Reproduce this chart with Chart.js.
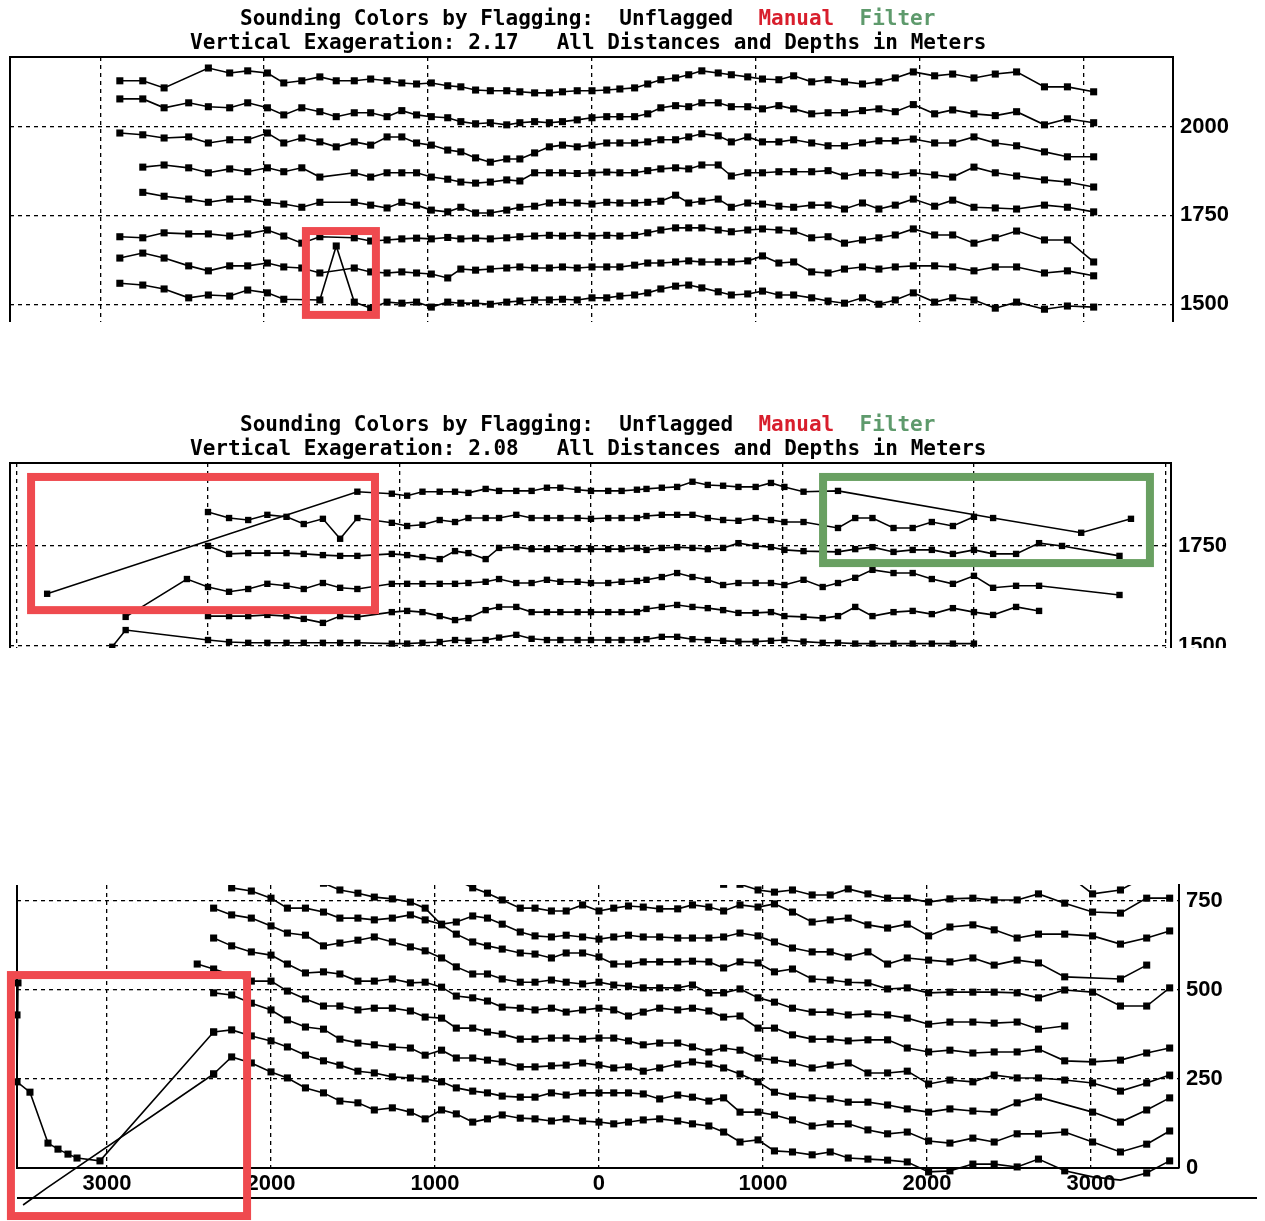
<!DOCTYPE html>
<html>
<head>
<meta charset="utf-8">
<script src="https://cdn.jsdelivr.net/npm/chart.js"></script>
<style>
  html, body { margin: 0; padding: 0; background: #fff; }
  body { width: 1265px; height: 1221px; position: relative; overflow: hidden; }
  canvas { position: absolute; left: 0; }
  .t { position: absolute; font: bold 21px "DejaVu Sans Mono", monospace; line-height: 24px; white-space: pre; color: #000; z-index: 2; }
  .m { color: #d81e2c; }
  .f { color: #5e9a6c; }
</style>
</head>
<body>
<div class="t" style="top:6px;left:240px">Sounding Colors by Flagging:  Unflagged  <span class="m">Manual</span>  <span class="f">Filter</span></div>
<div class="t" style="top:30px;left:190px">Vertical Exageration: 2.17   All Distances and Depths in Meters</div>
<div class="t" style="top:412px;left:240px">Sounding Colors by Flagging:  Unflagged  <span class="m">Manual</span>  <span class="f">Filter</span></div>
<div class="t" style="top:436px;left:190px">Vertical Exageration: 2.08   All Distances and Depths in Meters</div>

<canvas id="c1" width="1265" height="322" style="top:0"></canvas>
<canvas id="c2" width="1265" height="248" style="top:400px"></canvas>
<canvas id="c3" width="1265" height="346" style="top:875px"></canvas>

<script>
const _ = null;

// ---- panel 1 (VE 2.17): across-track distance of each beam, depth per ping
const p1Dist = [-2880,-2740,-2610,-2460,-2340,-2210,-2100,-1980,-1880,-1770,
  -1660,-1560,-1450,-1350,-1250,-1160,-1070,-980,-880,-800,
  -710,-620,-520,-440,-350,-260,-180,-90,0,90,
  170,260,340,420,510,590,670,770,850,950,
  1040,1140,1230,1340,1440,1540,1650,1750,1850,1960,
  2090,2200,2330,2460,2590,2760,2900,3060];
const p1r1 = [2129,2129,2109,_,2165,2151,2157,2151,2123,2129,
  2140,2129,2129,2134,2129,2123,2120,2123,2115,2112,
  2103,2101,2101,2098,2095,2095,2098,2101,2101,2103,
  2106,2109,2120,2132,2137,2146,2157,2151,2146,2140,
  2134,2132,2143,2126,2132,2126,2120,2126,2137,2154,
  2143,2148,2137,2148,2154,2112,2112,2098];
const p1r2 = [2078,2078,2053,2067,2056,2053,2067,2053,2033,2053,
  2042,2028,2039,2039,2028,2045,2033,2028,2025,2014,
  2008,2011,2005,2011,2014,2011,2014,2019,2025,2028,
  2028,2028,2036,2053,2059,2056,2067,2067,2056,2056,
  2050,2059,2050,2036,2039,2039,2045,2050,2042,2062,
  2036,2047,2036,2031,2042,2005,2022,2011];
const p1r3 = [1982,1977,1968,1971,1954,1963,1963,1982,1954,1968,
  1957,1943,1957,1948,1971,1971,1954,1948,1934,1929,
  1912,1900,1909,1909,1926,1943,1948,1943,1948,1954,
  1954,1954,1957,1963,1963,1971,1980,1974,1957,1971,
  1957,1957,1963,1954,1946,1946,1954,1960,1960,1965,
  1954,1954,1971,1954,1946,1929,1915,1915];
const p1r4 = [_,1886,1892,1884,1870,1881,1873,1884,1873,1884,
  1858,_,1870,1858,1870,1870,1870,1858,1852,1844,
  1841,1844,1850,1847,1870,1870,1870,1868,1870,1872,
  1870,1870,1876,1881,1884,1881,1892,1892,1861,1870,
  1870,1873,1873,1873,1876,1861,1870,1870,1864,1870,
  1864,1858,1886,1870,1861,1850,1844,1830];
const p1r5 = [_,1815,1804,1796,1787,1796,1796,1787,1782,1773,
  1787,_,1787,1779,1771,1787,1779,1765,1760,1773,
  1757,1757,1765,1773,1776,1785,1787,1785,1782,1787,
  1785,1785,1787,1790,1807,1785,1790,1796,1773,1785,
  1782,1776,1773,1779,1779,1768,1785,1768,1779,1796,
  1776,1793,1773,1771,1768,1779,1773,1760];
const p1r6 = [1690,1687,1701,1698,1698,1692,1698,1709,1692,1672,
  1690,_,1687,1678,1681,1684,1686,1684,1688,1684,
  1686,1684,1687,1690,1692,1694,1692,1694,1692,1694,
  1692,1694,1701,1709,1715,1715,1715,1709,1704,1709,
  1712,1709,1706,1687,1690,1672,1681,1687,1695,1712,
  1695,1695,1672,1687,1706,1681,1681,1619];
const p1r7 = [1630,1644,1630,1608,1594,1608,1608,1616,1605,1602,
  1588,_,1602,1591,1588,1591,1588,1585,1574,1599,
  1596,1599,1602,1605,1602,1602,1605,1602,1605,1605,
  1605,1610,1616,1616,1619,1622,1619,1619,1619,1622,
  1636,1616,1619,1591,1588,1599,1605,1599,1605,1608,
  1608,1605,1594,1605,1605,1588,1594,1580];
const p1r8 = [1559,1554,1543,1518,1526,1523,1540,1532,1514,_,
  1512,1664,1506,1489,1506,1503,1506,1492,1506,1503,
  1503,1500,1506,1509,1512,1512,1514,1512,1518,1518,
  1523,1526,1532,1543,1551,1554,1546,1535,1526,1529,
  1537,1526,1526,1518,1509,1503,1518,1500,1512,1532,
  1506,1518,1512,1489,1506,1486,1495,1492];
const p1DistTicks = [-3000,-2000,-1000,0,1000,2000,3000];
const p1DepthTicks = [1500,1750,2000];

// ---- panel 2 (VE 2.08)
const p2Dist = [-2840,-2500,-2430,-2110,
  -2000,-1890,-1790,-1690,-1590,-1500,-1400,-1310,-1220,-1040,
  -960,-880,-790,-710,-640,-550,-480,-390,-310,-230,
  -160,-70,0,90,160,240,290,370,450,530,
  610,690,770,860,940,1010,1110,1210,1290,1380,
  1470,1580,1680,1780,1890,2000,2100,2220,2340,2460,
  2560,2760,2820];
const p2rA = [1630,_,_,_,
  _,_,_,_,_,_,_,_,1886,1881,
  1876,1886,1886,1886,1883,1893,1888,1888,1888,1896,
  1896,1891,1888,1888,1888,1891,1893,1896,1898,1911,
  1903,1901,1898,1898,1908,1898,1886,_,1888,_,
  _,_,_,_,_,_,1820,_,_,_,
  1783,_,1818];
const p2rB = [_,_,_,_,
  1835,1820,1815,1828,1823,1805,1818,1768,1820,1808,
  1800,1803,1815,1810,1820,1820,1820,1828,1820,1820,
  1820,1820,1818,1820,1820,1820,1825,1828,1828,1828,
  1820,1815,1813,1820,1815,1810,1810,_,1795,1820,
  1820,1795,1795,1810,1800,1823,_,_,_,_,
  _,_,_];
const p2rC = [_,_,_,_,
  1750,1730,1732,1732,1732,1730,1727,1725,1725,1730,
  1727,1722,1717,1737,1732,1717,1745,1747,1742,1742,
  1742,1742,1742,1742,1742,1745,1740,1745,1747,1745,
  1742,1745,1757,1750,1747,1740,1737,_,1735,1742,
  1747,1735,1740,1740,1730,1740,1730,1730,1757,1750,
  _,1725,_];
const p2rD = [_,_,1572,1667,
  1647,1635,1642,1655,1650,1642,1657,1645,1642,1655,
  1655,1655,1655,1655,1657,1660,1667,1657,1657,1665,
  1660,1660,1657,1657,1660,1662,1665,1672,1682,1672,
  1665,1652,1657,1657,1657,1652,1665,1647,1657,1670,
  1690,1682,1682,1667,1655,1675,1645,1650,1650,_,
  _,1627,_];
const p2rE = [_,_,_,_,
  1574,1574,1574,1577,1574,1567,1557,1574,1572,1584,
  1587,1584,1574,1564,1569,1589,1597,1597,1584,1584,
  1584,1584,1584,1584,1584,1584,1592,1597,1602,1597,
  1594,1589,1582,1582,1584,1574,1572,1569,1574,1597,
  1574,1584,1587,1579,1594,1584,1577,1597,1587,_,
  _,_,_];
const p2rF = [_,1497,1539,_,
  1514,1509,1507,1507,1507,1507,1507,1507,1507,1505,
  1505,1507,1509,1514,1512,1514,1520,1527,1517,1514,
  1514,1514,1514,1514,1514,1514,1516,1522,1522,1516,
  1514,1512,1510,1510,1512,1514,1510,1507,1507,1505,
  1505,1505,1505,1505,1505,1505,_,_,_,_,
  _,_,_];
const p2DistTicks = [-3000,-2000,-1000,0,1000,2000,3000];
const p2DepthTicks = [1500,1750];

// ---- panel 3
const p3Dist = [-2450,-2350,-2240,-2120,-2000,-1900,-1790,-1680,-1580,-1470,
  -1370,-1260,-1150,-1060,-960,-870,-770,-680,-590,-480,
  -390,-290,-200,-100,0,90,180,270,370,480,
  570,670,760,860,970,1070,1180,1300,1410,1520,
  1640,1760,1880,2010,2140,2280,2410,2550,2680,2840,
  3010,3180,3340,3480];
const p3rM = [_,_,_,_,_,_,_,_,_,_,
  _,_,_,_,_,_,_,_,_,_,
  _,_,_,_,_,_,_,_,_,_,
  _,_,_,_,_,_,_,_,_,_,
  _,_,_,_,_,_,_,_,_,830,
  770,781,820,_];
const p3r0 = [_,_,_,_,_,_,_,_,_,_,
  _,_,_,_,_,_,_,_,_,_,
  _,_,_,_,_,_,_,_,_,_,
  _,815,797,797,781,775,781,767,767,784,
  770,758,758,747,756,758,753,753,770,744,
  719,716,758,758];
const p3r1 = [_,_,_,_,_,_,_,_,_,_,
  _,_,_,_,_,810,787,772,753,730,
  730,722,722,739,722,730,736,733,728,728,
  739,733,722,739,733,742,719,691,697,702,
  683,674,685,652,677,683,669,646,657,657,
  652,629,646,666];
const p3r2 = [_,_,787,778,758,730,730,719,702,702,
  697,702,711,697,685,691,708,702,685,663,
  652,649,654,649,643,649,654,649,649,646,
  646,646,649,660,652,635,618,607,607,593,
  607,573,590,584,579,590,570,584,576,537,
  _,531,570,_];
const p3r3 = [_,_,_,_,_,_,_,800,781,772,
  761,756,747,730,683,657,635,624,615,604,
  601,590,604,604,593,573,573,579,579,579,
  581,579,562,579,576,551,559,531,528,522,
  520,503,506,492,494,494,494,492,478,500,
  494,455,455,506];
const p3r4 = [_,730,711,702,680,660,654,624,632,640,
  649,635,621,610,590,565,545,545,531,522,
  522,528,522,517,522,514,511,506,506,506,
  514,492,492,503,478,466,449,438,438,430,
  433,430,421,404,410,410,407,410,390,399,
  _,_,_,_];
const p3r5 = [_,646,624,607,598,573,548,551,545,525,
  525,531,520,522,508,483,478,469,452,449,
  444,449,438,444,449,444,427,438,449,444,
  449,441,424,427,393,393,374,362,362,357,
  360,360,337,326,331,323,326,326,334,301,
  298,303,323,337];
const p3r6 = [573,559,_,525,525,497,475,455,455,444,
  449,449,441,424,421,393,393,382,376,362,
  362,365,365,362,365,365,357,346,351,351,
  340,326,337,331,309,303,295,281,289,295,
  267,267,272,236,247,242,261,253,253,247,
  239,216,239,261];
const p3r7 = [_,492,486,463,444,416,396,390,362,351,
  346,340,337,317,331,309,309,303,298,284,
  284,287,289,295,289,281,284,272,281,292,
  298,292,281,264,242,213,202,197,194,185,
  185,177,166,157,166,160,157,183,199,_,
  157,129,163,197];
const p3r8 = [_,382,388,371,357,340,317,301,289,272,
  267,256,253,250,242,225,216,211,202,199,
  199,211,205,211,211,211,211,208,194,205,
  199,188,197,157,157,149,135,118,124,124,
  107,96,101,76,70,84,73,96,96,101,
  73,45,67,104];
const p3r9 = [_,264,312,295,270,253,225,211,188,183,
  163,169,157,138,163,152,129,138,149,140,
  138,132,138,132,129,124,129,135,138,132,
  124,118,101,73,79,48,45,37,45,28,
  25,22,17,-11,-8,11,11,3,25,-8,
  -25,-34,-14,20];
// the two flagged pings at the far port edge (red box)
const p3BadADist = [-3543,-3549,-3549,-3470,-3360,-3299,-3238,-3183,-3043,-2350];
const p3BadADepth = [520,430,242,213,70,53,39,28,20,382];
const p3BadBDist = [-3512,-3366,-2350];
const p3BadBDepth = [-104,-56,264];
const p3DistTicks = [-3000,-2000,-1000,0,1000,2000,3000];
const p3DepthTicks = [0,250,500,750];

// highlight boxes, in data units
const RED = '#ef4a4f', GREEN = '#69a062';
const p1Boxes = [{ x: [-1745, -1318], y: [1470, 1706], color: RED }];
const p2Boxes = [{ x: [-2924, -1128], y: [1589, 1923], color: RED },
                 { x: [1212, 2919], y: [1707, 1923], color: GREEN }];
const p3Boxes = [{ x: [-3586, -2146], y: [-135, 542], color: RED }];

const tickFont = { family: 'Liberation Sans', size: 22, weight: 'bold' };
const toPts = (xs, ys) => xs.map((x, i) => ({ x, y: ys[i] }));

const framePlugin = {
  id: 'frame',
  afterDraw(chart, args, opts) {
    const { ctx, chartArea: a, scales: { x, y } } = chart;
    ctx.save();
    ctx.strokeStyle = '#000';
    ctx.lineWidth = 2;
    ctx.beginPath();
    ctx.moveTo(a.left, a.bottom);
    ctx.lineTo(a.left, a.top);
    if (opts.top) ctx.lineTo(a.right, a.top);
    ctx.stroke();
    if (opts.base) {
      ctx.beginPath();
      ctx.moveTo(a.left, a.bottom + opts.base);
      ctx.lineTo(opts.baseEnd, a.bottom + opts.base);
      ctx.stroke();
    }
    (opts.boxes || []).forEach(b => {
      const x0 = x.getPixelForValue(b.x[0]), x1 = x.getPixelForValue(b.x[1]);
      const y0 = y.getPixelForValue(b.y[1]), y1 = y.getPixelForValue(b.y[0]);
      ctx.strokeStyle = b.color;
      ctx.lineWidth = 8;
      ctx.strokeRect(x0, y0, x1 - x0, y1 - y0);
    });
    ctx.restore();
  }
};

function makeChart(id, cfg) {
  const sets = cfg.sets.map(data => ({
    data,
    borderColor: '#000',
    backgroundColor: '#000',
    borderWidth: 1.6,
    pointStyle: 'rect',
    pointRadius: cfg.r,
    pointBorderWidth: 0,
    pointBackgroundColor: '#000',
    spanGaps: true,
    tension: 0,
    clip: cfg.clip
  }));
  return new Chart(document.getElementById(id), {
    type: 'line',
    data: { datasets: sets },
    options: {
      responsive: false,
      animation: false,
      devicePixelRatio: 1,
      layout: { autoPadding: false, padding: { left: cfg.left, top: cfg.top, right: 0, bottom: 0 } },
      plugins: { legend: { display: false }, tooltip: { enabled: false }, frame: cfg.frame },
      scales: {
        x: {
          type: 'linear', min: cfg.xmin, max: cfg.xmax,
          afterBuildTicks: s => { s.ticks = cfg.xticks.map(value => ({ value })); },
          afterFit: s => { s.height = cfg.xh; s.paddingLeft = 0; s.paddingRight = 0; },
          ticks: { display: cfg.xlabels, color: '#000', font: tickFont, padding: 3, maxRotation: 0, autoSkip: false,
                   callback: v => String(Math.abs(v)) },
          grid: { color: '#000', lineWidth: 1.3, drawTicks: false },
          border: { display: cfg.xborder, color: '#000', width: 2, dash: [4, 4] }
        },
        y: {
          type: 'linear', position: 'right', min: cfg.ymin, max: cfg.ymax,
          afterBuildTicks: s => { s.ticks = cfg.yticks.map(value => ({ value })); },
          afterFit: s => { s.width = cfg.yw; s.paddingTop = 0; s.paddingBottom = 0; },
          ticks: { color: '#000', font: tickFont, padding: 7, callback: v => String(v) },
          grid: { color: '#000', lineWidth: 1.3, drawTicks: false },
          border: { display: true, color: '#000', width: 2, dash: [4, 4] }
        }
      }
    },
    plugins: [framePlugin]
  });
}

makeChart('c1', {
  sets: [p1r1, p1r2, p1r3, p1r4, p1r5, p1r6, p1r7, p1r8].map(r => toPts(p1Dist, r)),
  r: 5, clip: undefined, left: 10, top: 57,
  xmin: -3550, xmax: 3544, xh: 0, xlabels: false, xborder: false, xticks: p1DistTicks,
  ymin: 1450, ymax: 2196, yw: 92, yticks: p1DepthTicks,
  frame: { top: true, boxes: p1Boxes }
});

makeChart('c2', {
  sets: [p2rA, p2rB, p2rC, p2rD, p2rE, p2rF].map(r => toPts(p2Dist, r)),
  r: 4.5, clip: undefined, left: 10, top: 63,
  xmin: -3034, xmax: 3029, xh: 0, xlabels: false, xborder: false, xticks: p2DistTicks,
  ymin: 1494, ymax: 1958, yw: 94, yticks: p2DepthTicks,
  frame: { top: true, boxes: p2Boxes }
});

makeChart('c3', {
  sets: [p3rM, p3r0, p3r1, p3r2, p3r3, p3r4, p3r5, p3r6, p3r7, p3r8, p3r9].map(r => toPts(p3Dist, r))
    .concat([toPts(p3BadADist, p3BadADepth), toPts(p3BadBDist, p3BadBDepth)]),
  r: 5, clip: { left: 8, top: 0, right: 8, bottom: 60 }, left: 17, top: 10,
  xmin: -3549, xmax: 3537, xh: 53, xlabels: true, xborder: true, xticks: p3DistTicks,
  ymin: 0, ymax: 795, yw: 86, yticks: p3DepthTicks,
  frame: { top: false, base: 30, baseEnd: 1257, boxes: p3Boxes }
});
</script>
</body>
</html>
